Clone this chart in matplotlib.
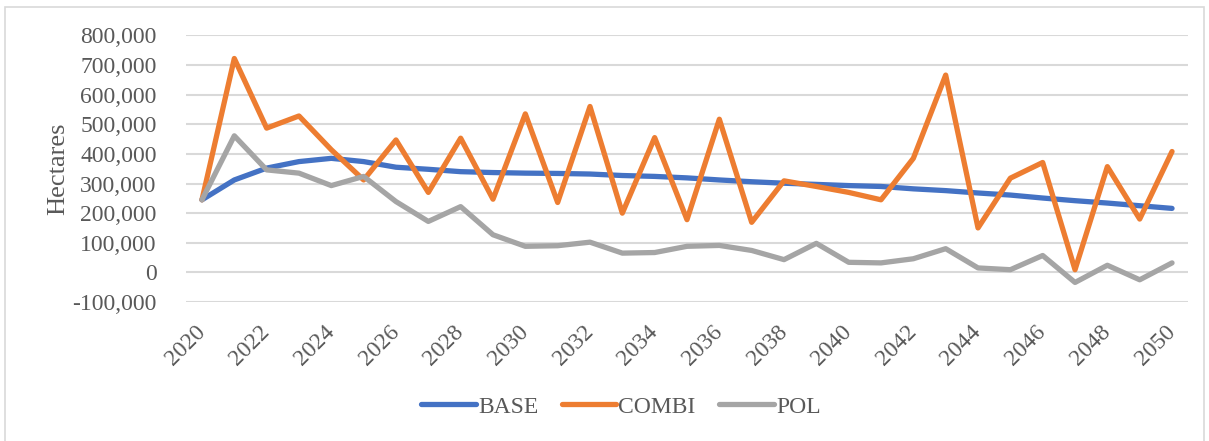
import matplotlib.pyplot as plt
from matplotlib.patches import Rectangle
from matplotlib.ticker import FuncFormatter

# Values (hectares)
years = list(range(2020, 2051))
base = [245000, 312000, 352000, 374000, 385000, 374000, 355000, 348000, 340000, 337000,
        335000, 334000, 332000, 327000, 324000, 319000, 312000, 306000, 301000, 297000,
        293000, 290000, 282000, 276000, 268000, 261000, 251000, 242000, 234000, 225000,
        216000]
combi = [245000, 722000, 487000, 528000, 414000, 312000, 447000, 270000, 453000, 247000,
         535000, 236000, 560000, 200000, 455000, 178000, 517000, 169000, 309000, 290000,
         270000, 245000, 385000, 666000, 150000, 318000, 371000, 9000, 357000, 180000,
         408000]
pol = [245000, 461000, 346000, 335000, 293000, 324000, 239000, 172000, 222000, 127000,
       88000, 90000, 102000, 65000, 67000, 88000, 91000, 74000, 43000, 98000,
       34000, 32000, 46000, 80000, 15000, 9000, 57000, -34000, 24000, -25000,
       32000]

series_names = ['BASE', 'COMBI', 'POL']
series_colors = ['#4472C4', '#ED7D31', '#A5A5A5']

plt.rcParams['font.family'] = ['Liberation Serif', 'DejaVu Serif']

W, H = 1209, 441
fig = plt.figure(figsize=(W / 100, H / 100), dpi=100)
ax = fig.add_axes([185.8 / W, 1 - 302 / H, (1188.2 - 185.8) / W, (302 - 35.4) / H])

for vals, name, col in zip([base, combi, pol], series_names, series_colors):
    ax.plot(years, vals, color=col, lw=3.8, label=name, solid_joinstyle='round',
            solid_capstyle='round', zorder=3)

ax.set_xlim(2019.5, 2050.5)
ax.set_ylim(-100000, 800000)
ax.set_yticks(range(-100000, 800001, 100000))
ax.yaxis.set_major_formatter(FuncFormatter(lambda v, p: f'{int(v):,}'))
ax.set_xticks(years[::2])
ax.grid(axis='y', color='#D9D9D9', lw=1.5)
ax.set_axisbelow(True)
for s in ax.spines.values():
    s.set_visible(False)
ax.tick_params(axis='both', length=0, labelsize=17, labelcolor='#595959')
ax.tick_params(axis='y', pad=21)
ax.tick_params(axis='x', pad=19)
for lab in ax.get_xticklabels():
    lab.set_rotation(45)
    lab.set_ha('right')
    lab.set_va('center')
    lab.set_rotation_mode('anchor')

ax.set_ylabel('Hectares', fontsize=19, color='#595959', labelpad=2)

fig.legend(loc='center', bbox_to_anchor=(621 / W, 1 - 407 / H), ncol=3, frameon=False,
           fontsize=17, handlelength=2.3, handletextpad=0.1, columnspacing=1.0,
           labelcolor='#595959')

fig.patches.append(Rectangle((5 / W, -0.1), 1199 / W, 1.1 - 7 / H, transform=fig.transFigure,
                             fill=False, edgecolor='#D9D9D9', lw=1.2))

fig.savefig('out.png', dpi=100)
